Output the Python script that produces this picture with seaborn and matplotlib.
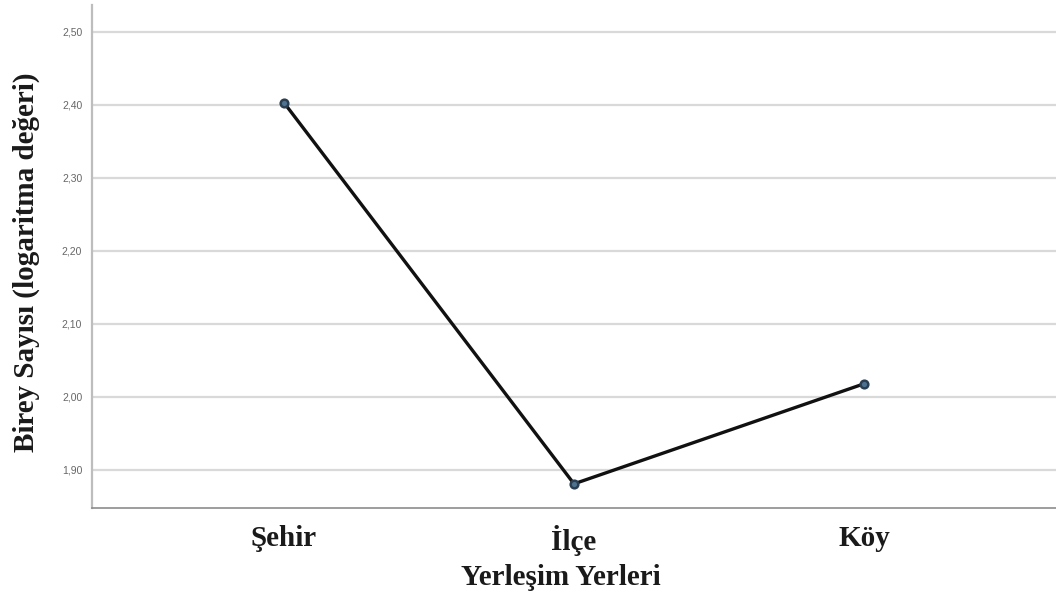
# Imports:
import pandas as pd
import matplotlib
matplotlib.use("Agg")
import matplotlib.pyplot as plt
from matplotlib.ticker import FuncFormatter
import seaborn as sns

# Data:
yerlesim = ["Şehir", "İlçe", "Köy"]
birey_log = [2.403, 1.881, 2.018]
y_ticks = [1.90, 2.00, 2.10, 2.20, 2.30, 2.40, 2.50]

dataframe = pd.DataFrame({"yerlesim": yerlesim, "birey": birey_log})

# Style:
sns.set_theme(style="white")

# Figure:
fig = plt.figure(figsize=(10.56, 5.99), dpi=100)
ax = fig.add_axes([0.0871, 0.152, 0.9129, 0.840])

# Plot:
sns.pointplot(
    data=dataframe,
    x="yerlesim",
    y="birey",
    color="#111111",
    markers="o",
    markersize=5.5,
    linewidth=2.4,
    errorbar=None,
    ax=ax,
)
for line in ax.lines:
    line.set_markerfacecolor("#4d7391")
    line.set_markeredgecolor("#2b3f52")

# Axes:
ax.set_xlim(-0.662, 2.662)
ax.set_ylim(1.848, 2.537)
ax.set_yticks(y_ticks)
ax.yaxis.set_major_formatter(FuncFormatter(lambda v, p: f"{v:.2f}".replace(".", ",")))
ax.grid(axis="y", color="#d9d9d9", linewidth=1.6)
ax.set_axisbelow(True)

for side in ["top", "right"]:
    ax.spines[side].set_visible(False)
ax.spines["left"].set_color("#bdbdbd")
ax.spines["left"].set_linewidth(1.6)
ax.spines["bottom"].set_color("#8c8c8c")
ax.spines["bottom"].set_linewidth(1.2)

ax.tick_params(axis="y", length=0, labelsize=7.5, labelcolor="#666666", pad=7)
ax.tick_params(axis="x", length=0, pad=12)
for lbl in ax.get_yticklabels():
    lbl.set_family("Liberation Sans")
for lbl in ax.get_xticklabels():
    lbl.set_family("Liberation Serif")
    lbl.set_fontweight("bold")
    lbl.set_fontsize(21)
    lbl.set_color("#1a1a1a")

# Labels:
ax.set_xlabel("Yerleşim Yerleri", family="Liberation Serif", fontweight="bold",
              fontsize=21, color="#1a1a1a", va="center")
ax.set_ylabel("Birey Sayısı (logaritma değeri)", family="Liberation Serif",
              fontweight="bold", fontsize=21, color="#1a1a1a", va="center")
ax.xaxis.set_label_coords(0.486, -0.139)
ax.yaxis.set_label_coords(-0.068, 0.489)

# Save:
fig.savefig("out.png", dpi=100)
